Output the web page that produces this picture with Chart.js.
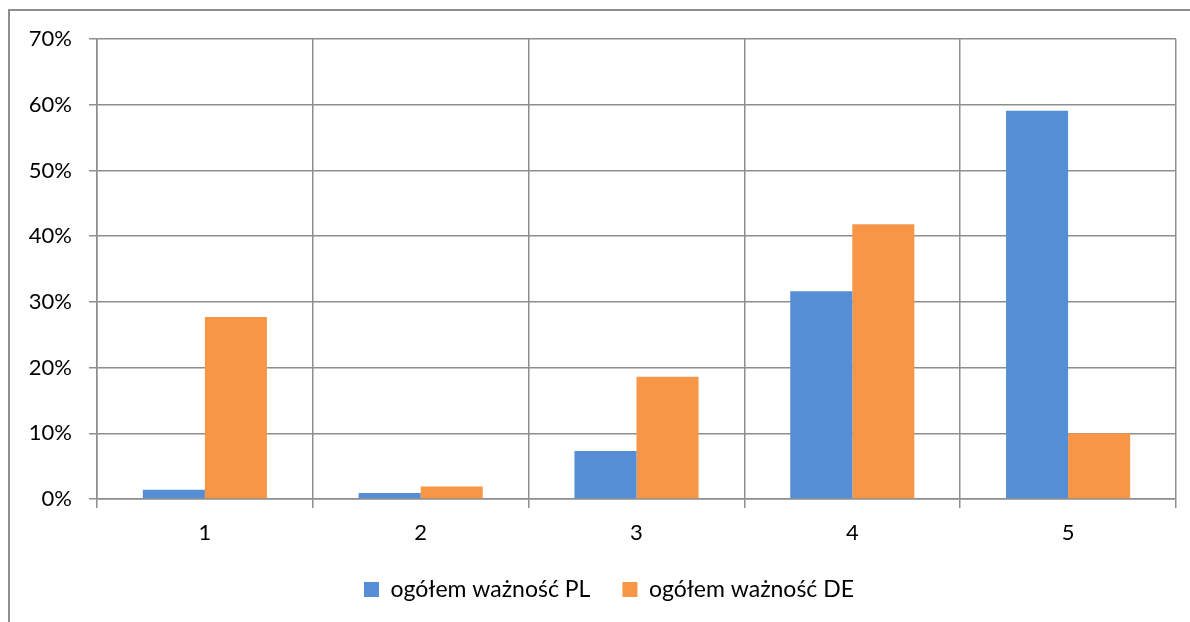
<!DOCTYPE html>
<html>
<head>
<meta charset="utf-8">
<script src="https://cdn.jsdelivr.net/npm/chart.js@4/dist/chart.umd.min.js"></script>
<style>
	body { margin: 0; background: #fff; overflow: hidden; }
	#frame { position: absolute; left: 8px; top: 9px; width: 1300px; height: 700px;
		border-left: 2px solid #8e8e8e; border-top: 2px solid #8e8e8e; }
	#main-chart { position: absolute; left: 0; top: 0; }
</style>
</head>
<body>
<div id="frame"></div>
<canvas id="main-chart" width="1190" height="622"></canvas>
<script>
// values (percent)
var categories = ['1', '2', '3', '4', '5'];
var valuesPL = [1.4, 0.9, 7.3, 31.6, 59.1];
var valuesDE = [27.7, 1.9, 18.6, 41.8, 10.0];
var seriesNames = ['ogółem ważność PL', 'ogółem ważność DE'];
var yTicks = [0, 10, 20, 30, 40, 50, 60, 70];

var gridColor = '#8e8e8e';
var axisFont = { family: 'Lato, "Open Sans", sans-serif', size: 22 };
var legendFont = { family: 'Lato, "Open Sans", sans-serif', size: 23 };

// the legend sits a bit right of the canvas centre in the original
var legendShift = {
	id: 'legendShift',
	afterLayout: function (chart) {
		chart.legend.left += 21;
		chart.legend.right += 21;
	}
};

function make() {
	var ctx = document.getElementById('main-chart');
	return new Chart(ctx, {
		type: 'bar',
		data: {
			labels: categories,
			datasets: [
				{ label: seriesNames[0], data: valuesPL, backgroundColor: '#558ed5' },
				{ label: seriesNames[1], data: valuesDE, backgroundColor: '#f79646' }
			]
		},
		plugins: [legendShift],
		options: {
			responsive: false,
			animation: false,
			categoryPercentage: 0.575,
			barPercentage: 1.0,
			layout: { padding: { top: 39, right: 14, bottom: 11, left: 0 } },
			plugins: {
				tooltip: { enabled: false },
				legend: {
					position: 'bottom',
					labels: {
						color: '#000',
						font: legendFont,
						boxWidth: 15,
						boxHeight: 15,
						padding: 32
					}
				}
			},
			scales: {
				x: {
					grid: { color: gridColor, lineWidth: 1.5, tickLength: 9, offset: true },
					border: { color: gridColor, width: 1.5 },
					ticks: { color: '#000', font: axisFont, padding: 12 },
					afterFit: function (scale) { scale.height = 47; }
				},
				y: {
					min: 0,
					max: 70,
					afterBuildTicks: function (scale) {
						scale.ticks = yTicks.map(function (v) { return { value: v }; });
					},
					grid: { color: gridColor, lineWidth: 1.5, tickLength: 8 },
					border: { color: gridColor, width: 1.5 },
					ticks: {
						color: '#000',
						font: axisFont,
						padding: 17,
						callback: function (v) { return v + '%'; }
					},
					afterFit: function (scale) { scale.width = 97; }
				}
			}
		}
	});
}

make();
</script>
</body>
</html>
